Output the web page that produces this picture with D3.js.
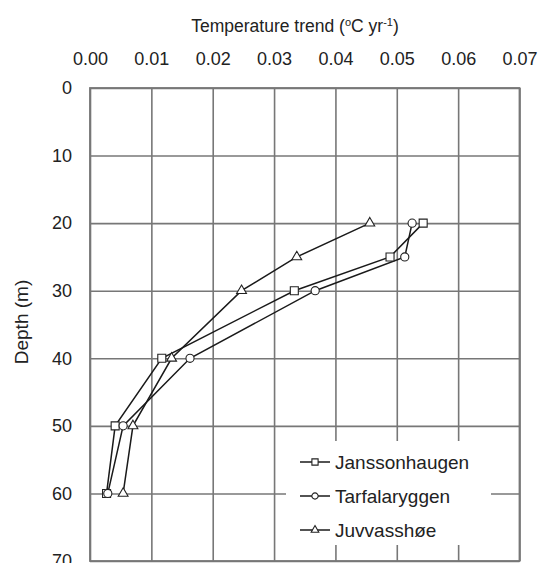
<!DOCTYPE html>
<html><head><meta charset="utf-8">
<script src="https://cdn.jsdelivr.net/npm/d3@7"></script>
<style>body{margin:0;background:#fff}text{font-family:"Liberation Sans",Arial,sans-serif;fill:#222}</style></head>
<body><svg id="c" width="541" height="563"></svg>
<script>
const depths=[20,25,30,40,50,60];
const seriesNames=["Janssonhaugen","Tarfalaryggen","Juvvasshøe"];
const janssonhaugen=[0.0543,0.0489,0.0333,0.0117,0.0041,0.0027];
const tarfalaryggen=[0.0525,0.0513,0.0367,0.0163,0.0054,0.0029];
const juvvasshoe=[0.0456,0.0337,0.0247,0.0133,0.0070,0.0054];
const markers=["square","circle","triangle"];
const xTicks=[0,0.01,0.02,0.03,0.04,0.05,0.06,0.07];
const yTicks=[0,10,20,30,40,50,60,70];

const svg=d3.select("#c");
const L=90,R=519.5,T=88,B=561;
const x=d3.scaleLinear().domain([0,0.07]).range([L,R]);
const y=d3.scaleLinear().domain([0,70]).range([T,B]);
const gridColor="#777";

const gx=svg.append("g").attr("transform",`translate(0,${T})`)
  .call(d3.axisTop(x).tickValues(xTicks).tickFormat(d3.format(".2f")).tickSize(-(B-T)).tickPadding(23));
gx.select(".domain").remove();
gx.selectAll(".tick line").attr("stroke",gridColor).attr("stroke-width",1.6);
gx.selectAll(".tick text").style("font-size","18px").attr("fill","#222");

const gy=svg.append("g").attr("transform",`translate(${L},0)`)
  .call(d3.axisLeft(y).tickValues(yTicks).tickSize(-(R-L)).tickPadding(18));
gy.select(".domain").remove();
gy.selectAll(".tick line").attr("stroke",gridColor).attr("stroke-width",1.6);
gy.selectAll(".tick text").style("font-size","18px").attr("fill","#222");

svg.append("rect").attr("x",L).attr("y",T).attr("width",R-L).attr("height",B-T)
  .attr("fill","none").attr("stroke",gridColor).attr("stroke-width",1.8);

svg.append("text").attr("x",295).attr("y",32).attr("text-anchor","middle").style("font-size","17.5px")
  .html('Temperature trend (<tspan dy="-6" font-size="11px">o</tspan><tspan dy="6">C yr</tspan><tspan dy="-6" font-size="11px">-1</tspan><tspan dy="6">)</tspan>');
svg.append("text").attr("transform","translate(28,322) rotate(-90)").attr("text-anchor","middle")
  .style("font-size","19px").text("Depth (m)");

svg.append("rect").attr("x",286).attr("y",441).attr("width",205).attr("height",104).attr("fill","#fff");

const seriesVals=[janssonhaugen,tarfalaryggen,juvvasshoe];
const sym={square:d3.symbolSquare,circle:d3.symbolCircle,triangle:d3.symbolTriangle};
const sizes={square:64,circle:52,triangle:42};
function drawMarker(g,type,cx,cy,scale){
  g.append("path").attr("d",d3.symbol(sym[type],sizes[type]*scale)())
   .attr("transform",`translate(${cx},${cy})`)
   .attr("fill","#fff").attr("stroke","#222").attr("stroke-width",1.1);
}
const line=d3.line().x(d=>x(d.v)).y(d=>y(d.d));
seriesVals.forEach((vals,i)=>{
  const pts=vals.map((v,j)=>({v,d:depths[j]}));
  svg.append("path").datum(pts).attr("d",line).attr("fill","none").attr("stroke","#1a1a1a").attr("stroke-width",1.5);
});
seriesVals.forEach((vals,i)=>{
  const g=svg.append("g");
  vals.forEach((v,j)=>drawMarker(g,markers[i],x(v),y(depths[j]),1));
});

const ly=[462,496,530];
seriesNames.forEach((n,i)=>{
  const g=svg.append("g");
  g.append("line").attr("x1",300).attr("x2",330).attr("y1",ly[i]).attr("y2",ly[i]).attr("stroke","#1a1a1a").attr("stroke-width",1.5);
  drawMarker(g,markers[i],315,ly[i],0.6);
  g.append("text").attr("x",335).attr("y",ly[i]).attr("dy","0.36em").style("font-size","19px").text(n);
});
</script></body></html>
